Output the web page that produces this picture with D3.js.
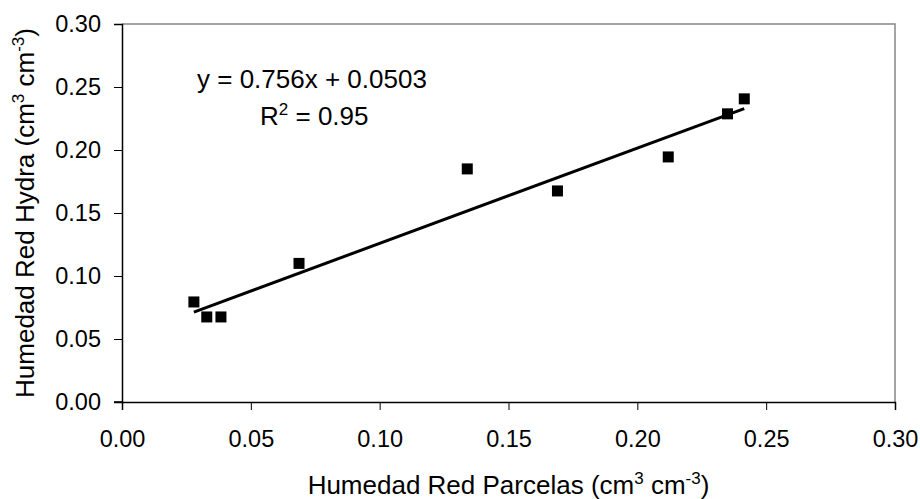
<!DOCTYPE html>
<html>
<head>
<meta charset="utf-8">
<script src="https://cdn.jsdelivr.net/npm/d3@7"></script>
<style>
body { margin: 0; background: #fff; }
text { font-family: "Liberation Sans", Arial, sans-serif; }
</style>
</head>
<body>
<div id="chart"></div>
<script>
// data
let parcelas = [0.0279, 0.0329, 0.0384, 0.0687, 0.134, 0.169, 0.212, 0.235, 0.2415];
let hydra    = [0.0794, 0.0675, 0.0675, 0.110, 0.185, 0.1675, 0.1945, 0.2287, 0.2406];
let ticks = [0, 0.05, 0.10, 0.15, 0.20, 0.25, 0.30];
let slope = 0.756, intercept = 0.0503;

let width = 920, height = 499;
let margin = {left: 122, right: 25, top: 24, bottom: 97};
let fontTick = 23.5, fontText = 26;

let svg = d3.select('#chart').append('svg')
	.attr('width', width)
	.attr('height', height);

let x = d3.scaleLinear().domain([0, 0.3]).range([margin.left, width - margin.right]);
let y = d3.scaleLinear().domain([0, 0.3]).range([height - margin.bottom, margin.top]);

// top/right frame in gray
svg.append('path')
	.attr('d', `M${x(0)},${y(0.3)}H${x(0.3)}V${y(0)}`)
	.attr('fill', 'none')
	.attr('stroke', '#888')
	.attr('stroke-width', 1.5);

let xAxis = svg.append('g')
	.attr('transform', `translate(0,${y(0)})`)
	.call(d3.axisBottom(x).tickValues(ticks).tickFormat(d3.format('.2f')).tickSizeOuter(0).tickSize(8).tickPadding(20));
let yAxis = svg.append('g')
	.attr('transform', `translate(${x(0)},0)`)
	.call(d3.axisLeft(y).tickValues(ticks).tickFormat(d3.format('.2f')).tickSizeOuter(0).tickSize(8).tickPadding(13));

[xAxis, yAxis].forEach(a => {
	a.select('.domain').attr('stroke', '#000').attr('stroke-width', 1.5);
	a.selectAll('.tick line').attr('stroke', '#000');
	a.selectAll('.tick text').attr('font-size', fontTick).attr('fill', '#000')
		.style('font-family', '"Liberation Sans", Arial, sans-serif');
});
svg.append('line')
	.attr('x1', x(0) - 8).attr('x2', x(0))
	.attr('y1', y(0)).attr('y2', y(0))
	.attr('stroke', '#000').attr('stroke-width', 1.5);

// trend line
let x0 = d3.min(parcelas), x1 = d3.max(parcelas);
svg.append('line')
	.attr('x1', x(x0)).attr('y1', y(slope * x0 + intercept))
	.attr('x2', x(x1)).attr('y2', y(slope * x1 + intercept))
	.attr('stroke', '#000')
	.attr('stroke-width', 3);

// points
svg.append('g').selectAll('rect')
	.data(parcelas)
	.join('rect')
	.attr('x', (d) => x(d) - 5.5)
	.attr('y', (d, i) => y(hydra[i]) - 5.5)
	.attr('width', 11)
	.attr('height', 11)
	.attr('fill', '#000');

// superscript helper
function sup(t, s) {
	t.append('tspan').attr('dy', -10).attr('font-size', 17).text(s);
	return t;
}

// equation
svg.append('text')
	.attr('x', 197).attr('y', 88)
	.attr('font-size', fontText)
	.text('y = 0.756x + 0.0503');
let r2 = svg.append('text')
	.attr('x', 260).attr('y', 125)
	.attr('font-size', fontText);
r2.append('tspan').text('R');
sup(r2, '2');
r2.append('tspan').attr('dy', 10).text(' = 0.95');

// axis titles
function title(t) {
	t.append('tspan').text(t.attr('data-label') + ' (cm');
	sup(t, '3');
	t.append('tspan').attr('dy', 10).text(' cm');
	sup(t, '-3');
	t.append('tspan').attr('dy', 10).text(')');
}

svg.append('text')
	.attr('x', (x(0) + x(0.3)) / 2).attr('y', 494)
	.attr('text-anchor', 'middle')
	.attr('font-size', fontText)
	.attr('data-label', 'Humedad Red Parcelas')
	.call(title);

svg.append('text')
	.attr('transform', `translate(34,${(y(0) + y(0.3)) / 2}) rotate(-90)`)
	.attr('text-anchor', 'middle')
	.attr('font-size', fontText)
	.attr('data-label', 'Humedad Red Hydra')
	.call(title);
</script>
</body>
</html>
